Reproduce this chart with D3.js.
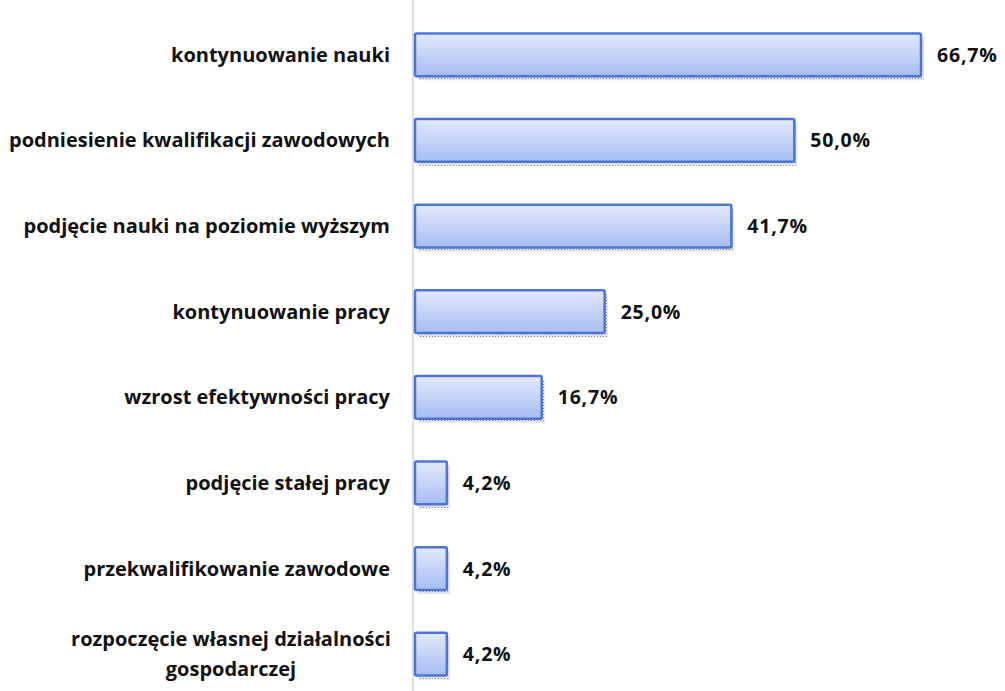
<!DOCTYPE html>
<html>
<head>
<meta charset="utf-8">
<script src="https://cdn.jsdelivr.net/npm/d3@7"></script>
<style>
  body { margin: 0; background: #fff; }
  text { font-family: "Open Sans", "Liberation Sans", sans-serif; font-weight: bold; fill: #111; }
</style>
</head>
<body>
<div id="chart"></div>
<script>
const categories = [
  ["kontynuowanie nauki"],
  ["podniesienie kwalifikacji zawodowych"],
  ["podjęcie nauki na poziomie wyższym"],
  ["kontynuowanie pracy"],
  ["wzrost efektywności pracy"],
  ["podjęcie stałej pracy"],
  ["przekwalifikowanie zawodowe"],
  ["rozpoczęcie własnej działalności", "gospodarczej"]
]
const values = [66.7, 50.0, 41.7, 25.0, 16.7, 4.2, 4.2, 4.2]
const valueLabels = ["66,7%", "50,0%", "41,7%", "25,0%", "16,7%", "4,2%", "4,2%", "4,2%"]

const W = 1005, H = 691
const axisX = 413

const x = d3.scaleLinear().domain([0, 66.7]).range([axisX + 2, 921])
const y = d3.scaleBand().domain(d3.range(categories.length)).range([12, 697]).paddingInner(0.5).paddingOuter(0.25)

const svg = d3.select("#chart").append("svg")
  .attr("width", W).attr("height", H)

const defs = svg.append("defs")
const grad = defs.append("linearGradient")
  .attr("id", "barGrad").attr("x1", 0).attr("y1", 0).attr("x2", 0).attr("y2", 1)
grad.append("stop").attr("offset", "0%").attr("stop-color", "#e3e9fb")
grad.append("stop").attr("offset", "100%").attr("stop-color", "#a6bdf3")

const pat = defs.append("pattern")
  .attr("id", "shadowPat").attr("width", 3).attr("height", 3).attr("patternUnits", "userSpaceOnUse")
pat.append("rect").attr("width", 3).attr("height", 3).attr("fill", "#eeeeee")
pat.append("rect").attr("width", 1).attr("height", 1).attr("fill", "#808080")
pat.append("rect").attr("x", 1.5).attr("y", 1.5).attr("width", 1).attr("height", 1).attr("fill", "#a8a8a8")

// axis line
svg.append("line")
  .attr("x1", axisX).attr("x2", axisX).attr("y1", 0).attr("y2", H)
  .attr("stroke", "#d6d6d6").attr("stroke-width", 1.5)

const bars = svg.selectAll("g.bar")
  .data(values)
  .enter().append("g").attr("class", "bar")

// dotted shadow
bars.append("rect")
  .attr("x", x(0) + 3)
  .attr("y", (d, i) => y(i) + 4)
  .attr("width", d => x(d) - x(0))
  .attr("height", y.bandwidth())
  .attr("fill", "url(#shadowPat)")

bars.append("rect")
  .attr("x", x(0))
  .attr("y", (d, i) => y(i))
  .attr("width", d => x(d) - x(0))
  .attr("height", y.bandwidth())
  .attr("rx", 1.5)
  .attr("fill", "url(#barGrad)")
  .attr("stroke", "#4f74d3")
  .attr("stroke-width", 2.5)

bars.append("text")
  .attr("x", d => x(d) + 16)
  .attr("y", (d, i) => y(i) + y.bandwidth() / 2)
  .attr("dy", "0.36em")
  .style("font-size", "19.5px")
  .style("letter-spacing", "0.8px")
  .text((d, i) => valueLabels[i])

// category labels
svg.selectAll("text.cat")
  .data(categories)
  .enter().append("text").attr("class", "cat")
  .style("font-size", "20px")
  .each(function(lines, i) {
    const t = d3.select(this)
    const cy = y(i) + y.bandwidth() / 2
    const lh = 30
    lines.forEach((ln, k) => {
      t.append("tspan")
        .attr("x", lines.length > 1 ? 231 : 390)
        .attr("text-anchor", lines.length > 1 ? "middle" : "end")
        .attr("y", cy + (k - (lines.length - 1) / 2) * lh)
        .attr("dy", "0.35em")
        .text(ln)
    })
  })
</script>
</body>
</html>
